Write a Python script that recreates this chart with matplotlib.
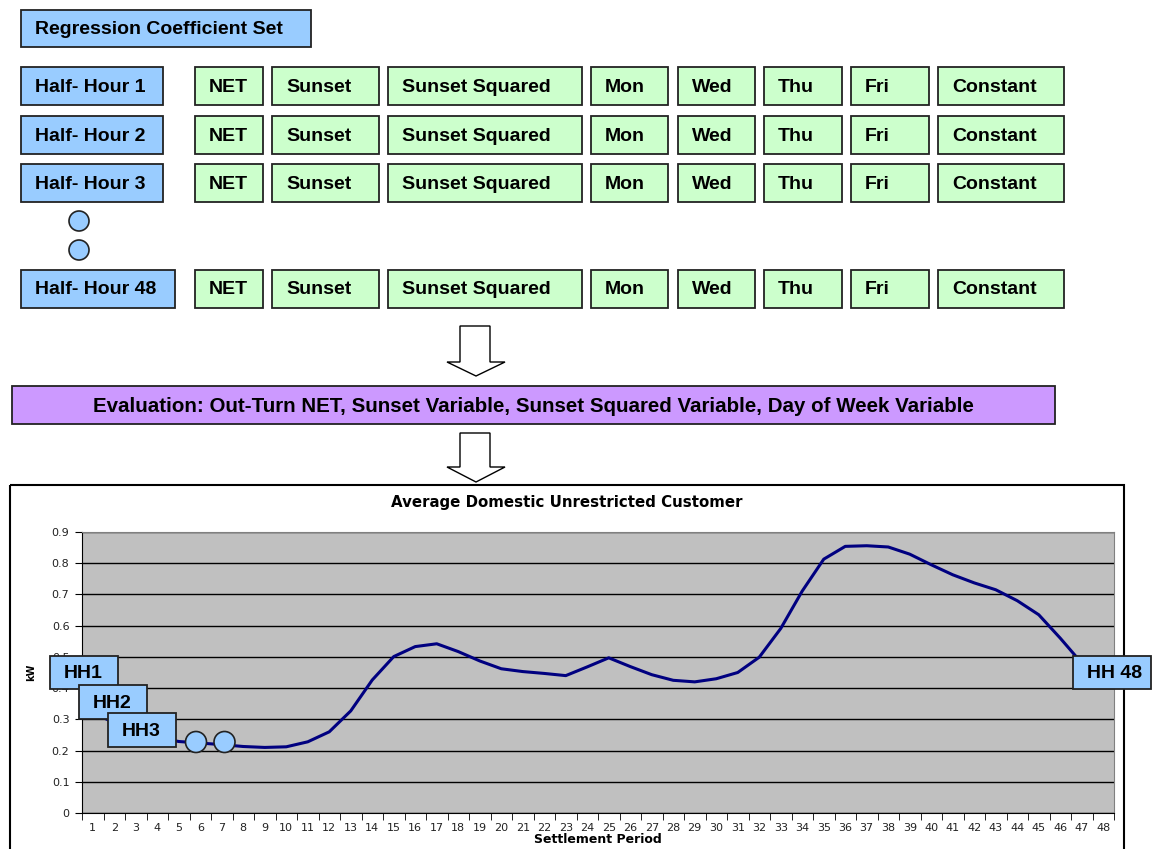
import matplotlib
matplotlib.use("Agg")
import matplotlib.pyplot as plt
from matplotlib.patches import Rectangle, Circle, Polygon

# data
periods = list(range(1, 49))
kw = [0.32, 0.29, 0.262, 0.242, 0.229, 0.224, 0.219, 0.213, 0.210, 0.212,
      0.228, 0.260, 0.327, 0.426, 0.501, 0.533, 0.542, 0.517, 0.487, 0.462,
      0.453, 0.447, 0.440, 0.468, 0.497, 0.469, 0.443, 0.425, 0.420, 0.430,
      0.450, 0.499, 0.591, 0.711, 0.813, 0.854, 0.856, 0.852, 0.829, 0.795,
      0.763, 0.737, 0.715, 0.680, 0.635, 0.560, 0.480, 0.430]
yticks = [0, 0.1, 0.2, 0.3, 0.4, 0.5, 0.6, 0.7, 0.8, 0.9]
ytick_labels = ["0", "0.1", "0.2", "0.3", "0.4", "0.5", "0.6", "0.7", "0.8", "0.9"]

header = "Regression Coefficient Set"
row_labels = ["Half- Hour 1", "Half- Hour 2", "Half- Hour 3", "Half- Hour 48"]
coef_names = ["NET", "Sunset", "Sunset Squared", "Mon", "Wed", "Thu", "Fri", "Constant"]
evaluation = "Evaluation: Out-Turn NET, Sunset Variable, Sunset Squared Variable, Day of Week Variable"
chart_title = "Average Domestic Unrestricted Customer"
hh_labels = ["HH1", "HH2", "HH3", "HH 48"]

# layout (pixels)
row_tops = [67, 116, 164, 270]
row_widths = [142, 142, 142, 154]
coef_left = [195, 272, 388, 591, 678, 764, 851, 938]
coef_right = [263, 379, 582, 668, 755, 842, 929, 1064]
hh_boxes = [(50, 656, 68, 33), (79, 685, 68, 34), (108, 713, 68, 34), (1073, 656, 78, 33)]

BLUE = "#99CCFF"
GREEN = "#CCFFCC"
PURPLE = "#CC99FF"
EDGE = "#222222"
BOLD = dict(family="Liberation Sans", weight="bold", color="black")

fig = plt.figure(figsize=(11.52, 8.49), dpi=100)

# the chart
ax = fig.add_axes([82 / 1152, 36 / 849, 1032 / 1152, 281 / 849], zorder=1)
ax.set_facecolor("#C0C0C0")
ax.plot(periods, kw, color="#000080", lw=2.2, zorder=3)
ax.set_xlim(0.5, 48.5)
ax.set_ylim(0, 0.9)
ax.set_yticks(yticks)
ax.set_yticklabels(ytick_labels)
ax.yaxis.grid(True, color="black", lw=1)
ax.set_axisbelow(True)
ax.set_xticks(periods)
ax.set_xticks([p - 0.5 for p in periods] + [48.5], minor=True)
ax.tick_params(axis="x", which="major", length=0, pad=7, labelsize=8)
ax.tick_params(axis="x", which="minor", length=5, direction="out")
ax.tick_params(axis="y", length=5, direction="out", labelsize=8, pad=4)
for lab in ax.get_xticklabels() + ax.get_yticklabels():
    lab.set_family("DejaVu Sans")
    lab.set_color("#222222")
ax.spines["top"].set_color("#808080")
ax.spines["right"].set_color("#808080")
ax.set_xlabel("Settlement Period", fontsize=9, weight="bold", labelpad=0)
ax.set_ylabel("kW", fontsize=7, weight="bold", labelpad=11)

# overlay in pixel coordinates for the diagram parts
ov = fig.add_axes([0, 0, 1, 1], zorder=10)
ov.set_xlim(0, 1152)
ov.set_ylim(849, 0)
ov.axis("off")
ov.patch.set_alpha(0)

ov.text(567, 502, chart_title, ha="center", va="center", fontsize=10.8,
        weight="bold", family="DejaVu Sans")


def box(x, y, w, h, text, color, center=False, size=14):
    ov.add_patch(Rectangle((x, y), w, h, facecolor=color, edgecolor=EDGE, lw=1.3))
    if center:
        ov.text(x + w / 2, y + h / 2 + 1, text, ha="center", va="center", size=size, **BOLD)
    else:
        ov.text(x + 14, y + h / 2 + 1, text, ha="left", va="center", size=size, **BOLD)


box(21, 10, 290, 37, header, BLUE)
for label, top, w in zip(row_labels, row_tops, row_widths):
    box(21, top, w, 38, label, BLUE)
    for name, l, r in zip(coef_names, coef_left, coef_right):
        box(l, top, r - l, 38, name, GREEN)

for cy in [221, 250]:
    ov.add_patch(Circle((79, cy), 10, facecolor=BLUE, edgecolor=EDGE, lw=1.2))


def arrow(top, head, tip):
    pts = [(460, top), (490, top), (490, head), (505, head), (476, tip),
           (447, head), (460, head)]
    ov.add_patch(Polygon(pts, closed=True, facecolor="white", edgecolor="black", lw=1))


arrow(326, 362, 376)
box(12, 386, 1043, 38, evaluation, PURPLE, center=True, size=14.8)
arrow(433, 467, 482)

# chart frame
ov.add_patch(Rectangle((10, 485), 1114, 400, facecolor="none", edgecolor="black", lw=1.5))

for label, (x, y, w, h) in zip(hh_labels, hh_boxes):
    box(x, y, w, h, label, BLUE, size=14)
for cx in [196, 224.5]:
    ov.add_patch(Circle((cx, 742), 10.5, facecolor=BLUE, edgecolor=EDGE, lw=1.2))

fig.savefig("out.png", dpi=100)
